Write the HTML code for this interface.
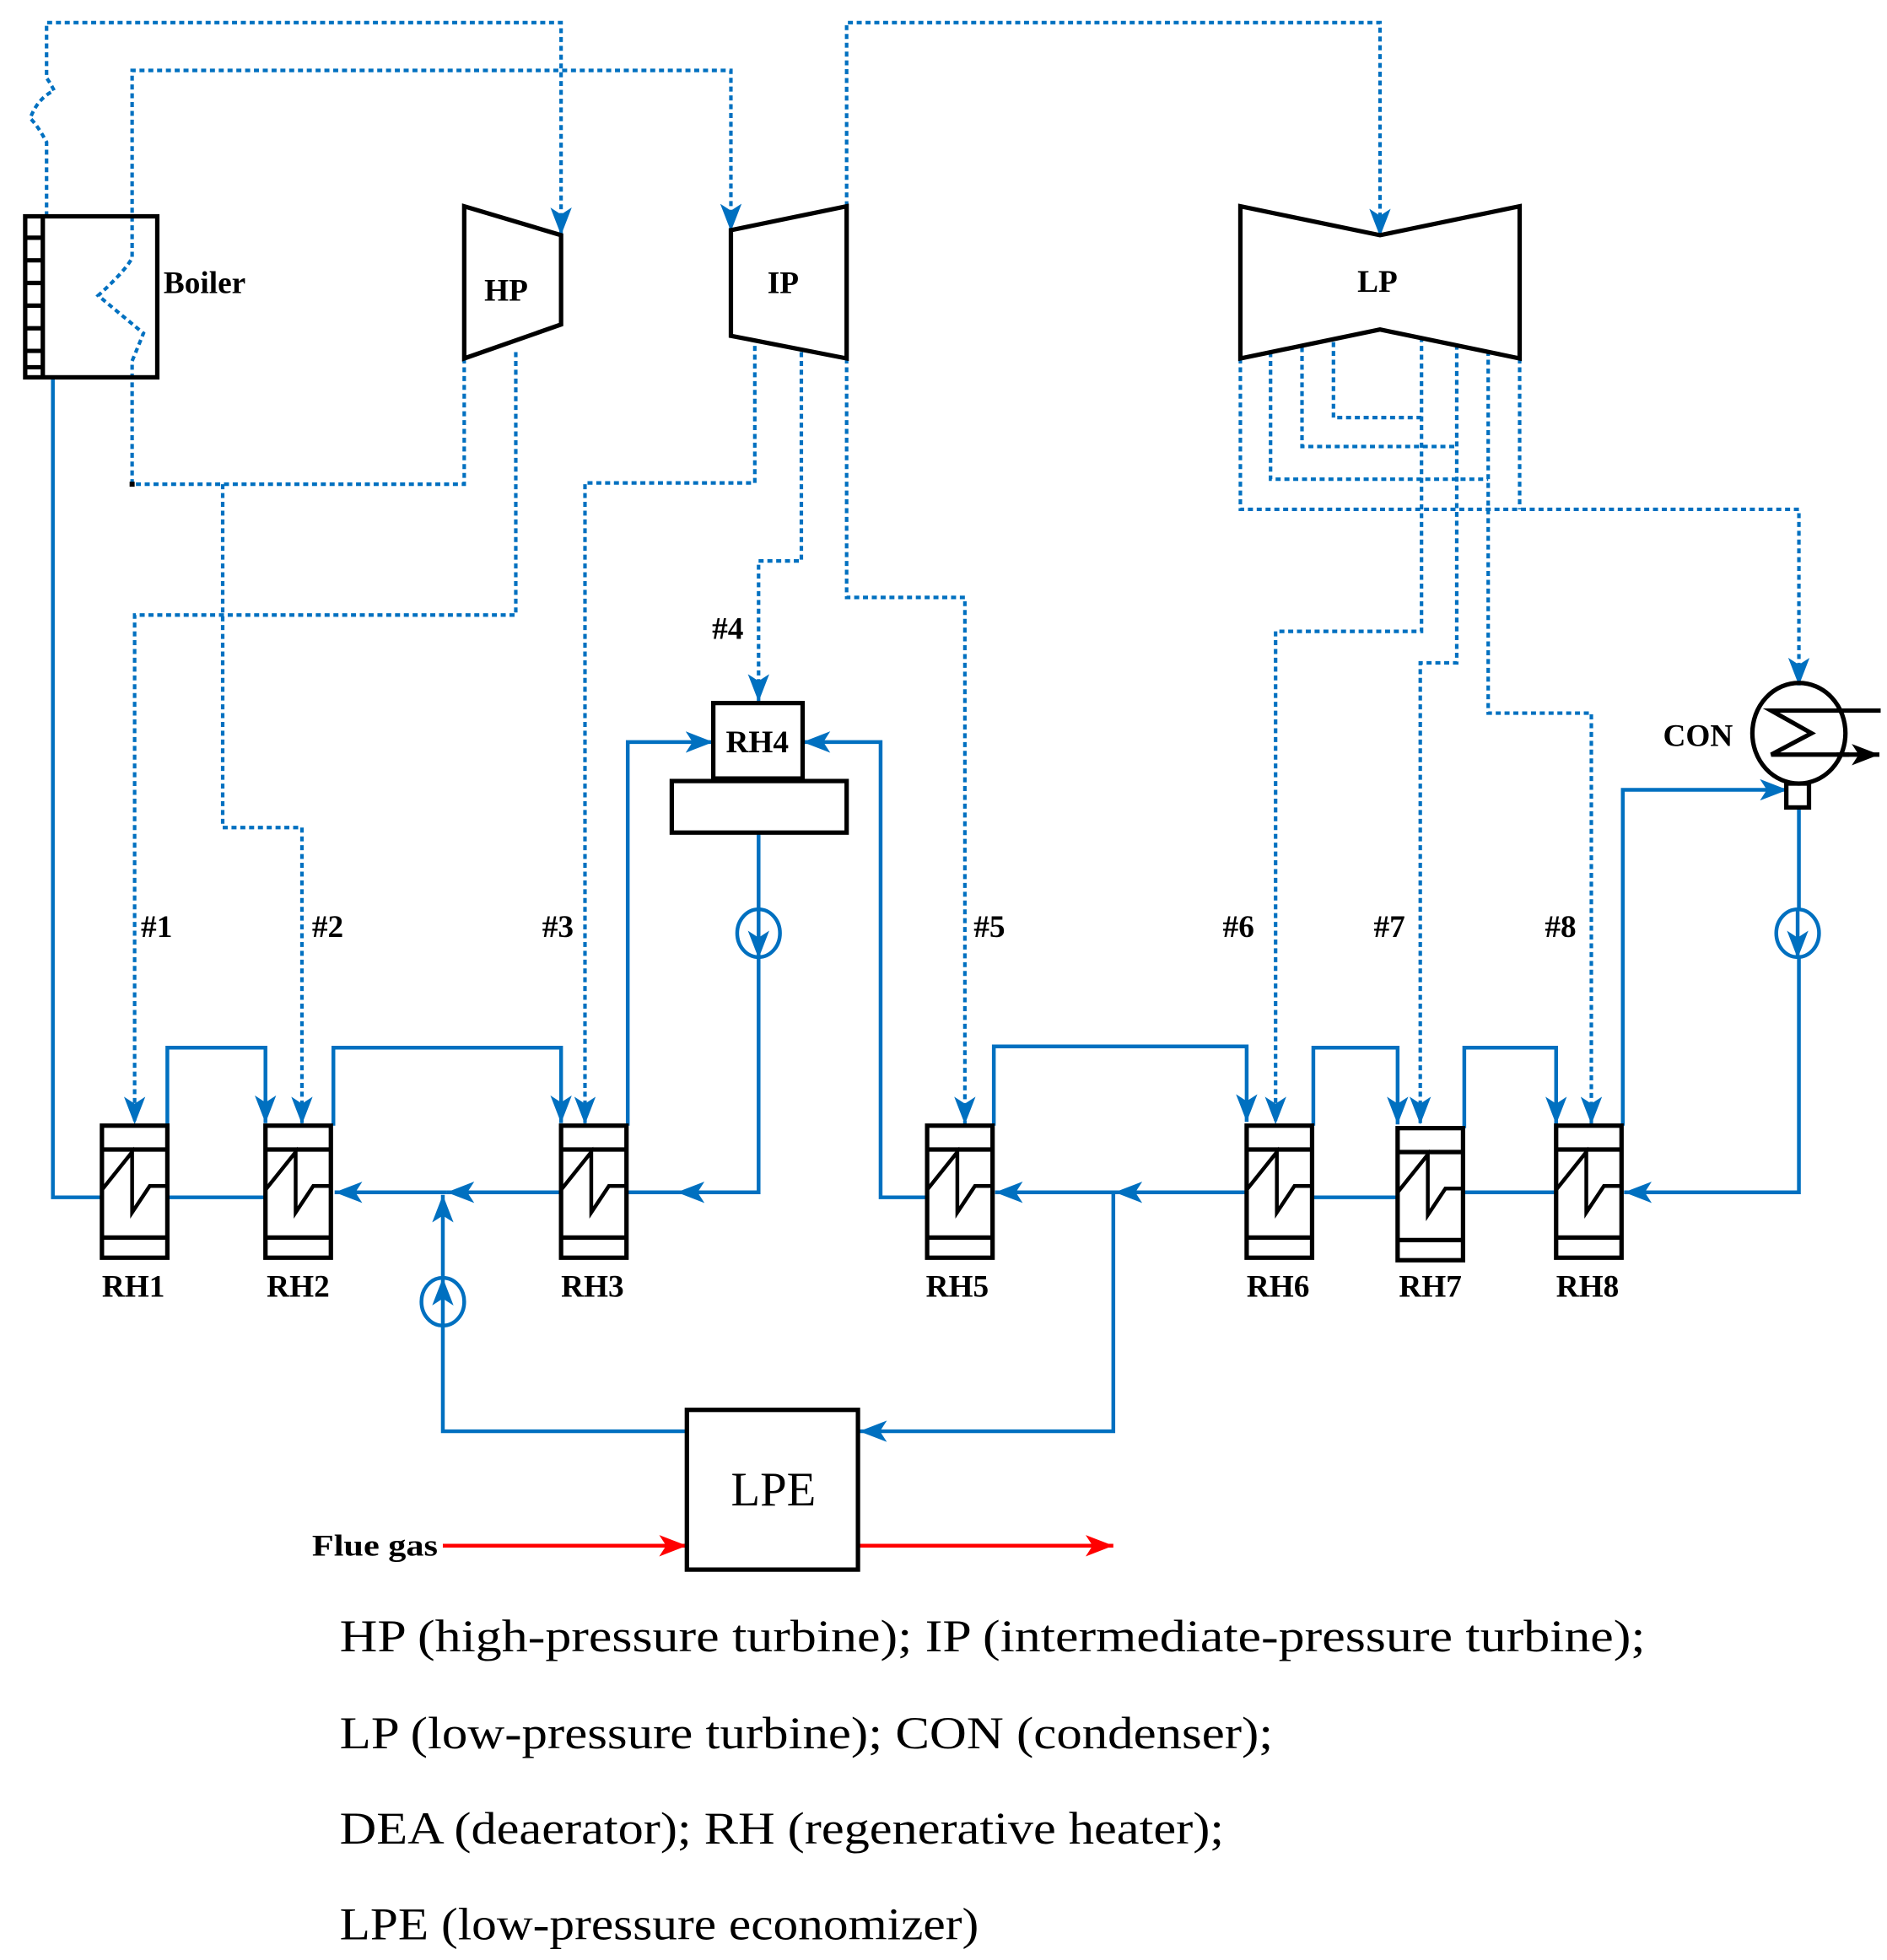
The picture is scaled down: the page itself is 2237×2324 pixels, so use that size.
<!DOCTYPE html>
<html><head><meta charset="utf-8"><style>html,body{margin:0;padding:0;background:#fff}svg{display:block}</style></head>
<body>
<svg width="2237" height="2324" viewBox="0 0 1500 1558.4" xmlns="http://www.w3.org/2000/svg" font-family="'Liberation Serif', serif">
<defs>
<marker id="a" viewBox="0 0 10 10" refX="10" refY="5" markerWidth="22" markerHeight="17" preserveAspectRatio="none" orient="auto" markerUnits="userSpaceOnUse">
<path d="M0,0 L10,5 L0,10 L2.5,5 z" fill="#0070C0"/>
</marker>
<marker id="r" viewBox="0 0 10 10" refX="10" refY="5" markerWidth="22" markerHeight="17" preserveAspectRatio="none" orient="auto" markerUnits="userSpaceOnUse">
<path d="M0,0 L10,5 L0,10 L2.5,5 z" fill="#FF0000"/>
</marker>
<marker id="k" viewBox="0 0 10 10" refX="10" refY="5" markerWidth="22" markerHeight="17" preserveAspectRatio="none" orient="auto" markerUnits="userSpaceOnUse">
<path d="M0,0 L10,5 L0,10 L2.5,5 z" fill="#000"/>
</marker>
</defs>

<g fill="none" stroke="#0070C0" stroke-width="2.8" stroke-dasharray="4 3">
<path d="M37,172 V113 Q30,100 24,94 Q30,78 43,72 Q40,66 37,62 V18 H446 V187" marker-end="url(#a)"/>
<path d="M105,385 V287 Q110,275 114,265 L78,235 Q100,215 105,205 V56 H581 V184" marker-end="url(#a)"/>
<path d="M673,164 V18 H1097 V188" marker-end="url(#a)"/>
<path d="M369,285 V385 H105"/>
<path d="M177,385 V658 H240 V894" marker-end="url(#a)"/>
<path d="M410,280 V489 H107 V894" marker-end="url(#a)"/>
<path d="M600,275 V384 H465 V894" marker-end="url(#a)"/>
<path d="M637,280 V446 H603 V558" marker-end="url(#a)"/>
<path d="M673,285 V475 H767 V894" marker-end="url(#a)"/>
<path d="M1060,272 V332 H1130"/>
<path d="M1035,276 V355 H1158"/>
<path d="M1010,280 V381 H1183"/>
<path d="M986,285 V405 H1430 V545" marker-end="url(#a)"/>
<path d="M1208,285 V405"/>
<path d="M1130,268 V502 H1014 V894" marker-end="url(#a)"/>
<path d="M1158,274 V527 H1129 V894" marker-end="url(#a)"/>
<path d="M1183,279 V567 H1265 V894" marker-end="url(#a)"/>
</g>
<rect x="103" y="383" width="4" height="4" fill="#000"/>

<g fill="none" stroke="#0070C0" stroke-width="3">
<path d="M42,300 V952 H81"/>
<path d="M133,952 H211"/>
<path d="M133,895 V833 H211 V893" marker-end="url(#a)"/>
<path d="M265,895 V833 H446 V893" marker-end="url(#a)"/>
<path d="M446,948 H355" marker-end="url(#a)"/>
<path d="M355,948 H266" marker-end="url(#a)"/>
<path d="M546,1138 H352 V950" marker-end="url(#a)"/>
<path d="M499,895 V590 H567" marker-end="url(#a)"/>
<path d="M737,952 H700 V590 H638" marker-end="url(#a)"/>
<path d="M603,662 V948 H538" marker-end="url(#a)"/>
<path d="M540,948 H499"/>
<path d="M790,895 V832 H991 V892" marker-end="url(#a)"/>
<path d="M991,948 H886" marker-end="url(#a)"/>
<path d="M888,948 H791" marker-end="url(#a)"/>
<path d="M885,948 V1138 H683" marker-end="url(#a)"/>
<path d="M1044,895 V833 H1111 V894" marker-end="url(#a)"/>
<path d="M1044,952 H1111"/>
<path d="M1164,897 V833 H1237 V894" marker-end="url(#a)"/>
<path d="M1164,948 H1237"/>
<path d="M1290,895 V628 H1421" marker-end="url(#a)"/>
<path d="M1430,642 V948 H1291" marker-end="url(#a)"/>
</g>
<g fill="#fff" stroke="#0070C0" stroke-width="3">
<ellipse cx="603" cy="742" rx="17" ry="19"/>
<ellipse cx="352" cy="1035" rx="17" ry="19"/>
<ellipse cx="1429" cy="742" rx="17" ry="19"/>
</g>
<g fill="none" stroke="#0070C0" stroke-width="3">
<path d="M603,723 V762" marker-end="url(#a)"/>
<path d="M1429,723 V762" marker-end="url(#a)"/>
<path d="M352,1054 V1016" marker-end="url(#a)"/>
</g>

<g fill="none" stroke="#FF0000" stroke-width="3">
<path d="M352,1229 H546" marker-end="url(#r)"/>
<path d="M683,1229 H885" marker-end="url(#r)"/>
</g>

<g fill="none" stroke="#000" stroke-width="3.5">
<rect x="20" y="172" width="105" height="128"/>
<path d="M34,172 V300 M20,189 H34 M20,207 H34 M20,225 H34 M20,243 H34 M20,261 H34 M20,279 H34 M20,292 H34"/>
<path d="M369,164 L446,187 V258 L369,285 Z"/>
<path d="M581,183 L673,164 V285 L581,267 Z"/>
<path d="M986,164 L1097,187 L1208,164 V285 L1097,262 L986,285 Z"/>
<rect x="567" y="559" width="71" height="60"/>
<rect x="534" y="621" width="139" height="41"/>
<rect x="546" y="1121" width="136" height="127"/>
<ellipse cx="1430" cy="583" rx="37" ry="40"/>
<rect x="1420" y="623" width="18" height="19"/>
<path d="M1408,565 H1495 M1456,565 L1408,565 L1440,583 L1408,600 H1470" />
</g>
<path d="M1460,600 H1494" stroke="#000" stroke-width="3.5" marker-end="url(#k)"/>

<g fill="none" stroke="#000" stroke-width="3.5">
<g id="h"><rect x="81" y="895" width="52" height="105"/><path d="M81,914 H133 M81,984 H133"/><path d="M81,946 L105,916 V964 L119,943 H133" stroke-width="3"/></g>
<use href="#h" x="130"/>
<use href="#h" x="365"/>
<use href="#h" x="656"/>
<use href="#h" x="910"/>
<use href="#h" x="1030" y="2"/>
<use href="#h" x="1156"/>
</g>

<g font-size="25" font-weight="bold" fill="#000">
<text x="130" y="233">Boiler</text>
<text x="385" y="239">HP</text>
<text x="610" y="233">IP</text>
<text x="1079" y="232">LP</text>
<text x="577" y="598">RH4</text>
<text x="1322" y="593">CON</text>
<text x="566" y="508">#4</text>
<text x="112" y="745">#1</text>
<text x="248" y="745">#2</text>
<text x="431" y="745">#3</text>
<text x="774" y="745">#5</text>
<text x="972" y="745">#6</text>
<text x="1092" y="745">#7</text>
<text x="1228" y="745">#8</text>
<text x="81" y="1031">RH1</text>
<text x="212" y="1031">RH2</text>
<text x="446" y="1031">RH3</text>
<text x="736" y="1031">RH5</text>
<text x="991" y="1031">RH6</text>
<text x="1112" y="1031">RH7</text>
<text x="1237" y="1031">RH8</text>
<text x="248" y="1237" font-size="24" textLength="100" lengthAdjust="spacingAndGlyphs">Flue gas</text>
<text x="581" y="1197" font-size="38" font-weight="normal">LPE</text>
</g>
<g font-size="36" fill="#000">
<text x="270" y="1313" textLength="1038" lengthAdjust="spacingAndGlyphs">HP (high-pressure turbine);  IP (intermediate-pressure turbine);</text>
<text x="270" y="1390" textLength="742" lengthAdjust="spacingAndGlyphs">LP (low-pressure turbine);  CON (condenser);</text>
<text x="270" y="1466" textLength="703" lengthAdjust="spacingAndGlyphs">DEA (deaerator);  RH (regenerative heater);</text>
<text x="270" y="1542" textLength="508" lengthAdjust="spacingAndGlyphs">LPE (low-pressure economizer)</text>
</g>
</svg>
</body></html>
